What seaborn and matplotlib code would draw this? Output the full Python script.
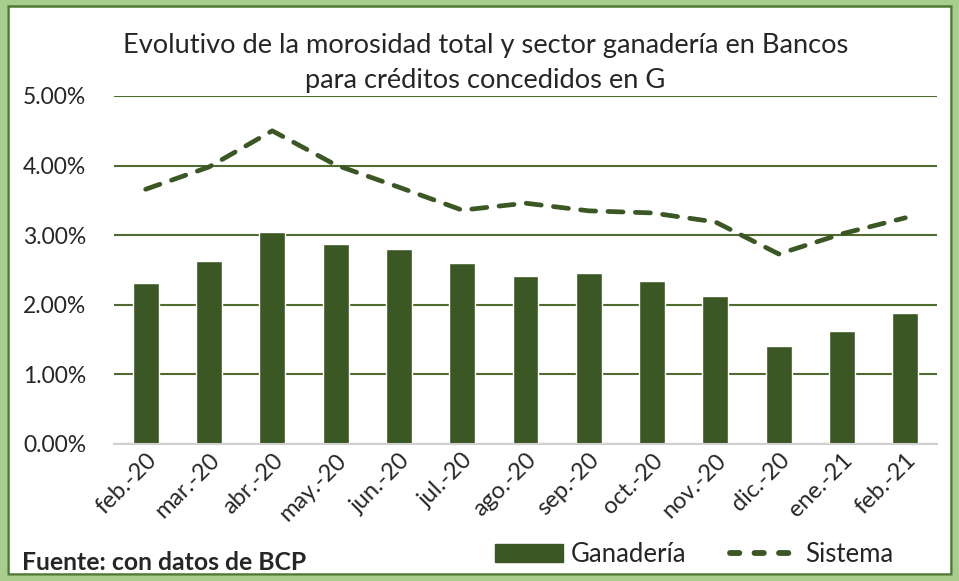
import numpy as np
import pandas as pd
import matplotlib
matplotlib.use("Agg")
import matplotlib.pyplot as plt
import seaborn as sns
from matplotlib.patches import Rectangle, Patch
from matplotlib.lines import Line2D
from matplotlib.ticker import PercentFormatter

# Data (percent)
months = ["feb.-20", "mar.-20", "abr.-20", "may.-20", "jun.-20", "jul.-20", "ago.-20",
          "sep.-20", "oct.-20", "nov.-20", "dic.-20", "ene.-21", "feb.-21"]
ganaderia = [2.31, 2.63, 3.05, 2.87, 2.80, 2.60, 2.41, 2.46, 2.34, 2.13, 1.41, 1.62, 1.88]
sistema = [3.66, 3.98, 4.50, 4.01, 3.69, 3.36, 3.46, 3.35, 3.32, 3.19, 2.73, 3.02, 3.25]

BAR_COLOR = "#3B5724"
GRID_COLOR = "#4F6B2F"

sns.set_style("white")
plt.rcParams["font.family"] = ["Lato", "DejaVu Sans"]

df = pd.DataFrame({"mes": months, "Ganadería": ganaderia, "Sistema": sistema})

fig = plt.figure(figsize=(9.59, 5.81), dpi=100)
ax = fig.add_axes([114 / 959, 1 - 444 / 581, (937 - 114) / 959, (444 - 96) / 581])

sns.barplot(data=df, x="mes", y="Ganadería", color=BAR_COLOR, saturation=1,
            width=0.41, ax=ax, zorder=3)
sns.lineplot(x=np.arange(len(months)), y=df["Sistema"], color=BAR_COLOR, lw=3.4,
             ax=ax, zorder=4)
ax.lines[-1].set_dashes([3.2, 2.6])
ax.lines[-1].set_dash_capstyle("round")

ax.set_ylim(0, 5)
ax.set_xlim(-0.5, len(months) - 0.5)
ax.set_yticks(np.arange(0, 5.01, 1))
ax.yaxis.set_major_formatter(PercentFormatter(decimals=2))
ax.grid(axis="y", color=GRID_COLOR, lw=1.5, zorder=0)
ax.set_axisbelow(True)
for s in ["top", "right", "left"]:
    ax.spines[s].set_visible(False)
ax.spines["bottom"].set_color("#D0D0D0")
ax.spines["bottom"].set_linewidth(1.5)
ax.spines["bottom"].set_zorder(5)
ax.set_xlabel("")
ax.set_ylabel("")
ax.tick_params(axis="y", labelsize=16.5, length=0, pad=20)
ax.tick_params(axis="x", labelsize=17, length=0, pad=4)
plt.setp(ax.get_xticklabels(), rotation=45, ha="right", rotation_mode="anchor")

fig.text(0.506, 0.922, "Evolutivo de la morosidad total y sector ganadería en Bancos",
         ha="center", va="center", fontsize=19.6)
fig.text(0.506, 0.862, "para créditos concedidos en G", ha="center", va="center", fontsize=19.6)

fig.text(22 / 959, 1 - 563 / 581, "Fuente: con datos de BCP", ha="left", va="center",
         fontsize=17.8, fontweight="bold")

handles = [Patch(facecolor=BAR_COLOR, edgecolor=BAR_COLOR, label="Ganadería"),
           Line2D([0], [0], color=BAR_COLOR, lw=4.2, dashes=[1.6, 2.6],
                  dash_capstyle="round", label="Sistema")]
fig.legend(handles=handles, loc="center", bbox_to_anchor=(694 / 959, 1 - 554 / 581),
           ncol=2, frameon=False, fontsize=18.5, handlelength=2.65, handleheight=0.7,
           columnspacing=1.7, handletextpad=0.3, borderpad=0)

# decorative border
fig.patches.append(Rectangle((0.003, 0.004), 0.994, 0.992, transform=fig.transFigure,
                             fill=False, edgecolor="#A9CD8C", lw=5, zorder=0))
fig.patches.append(Rectangle((0.0085, 0.012), 0.983, 0.978, transform=fig.transFigure,
                             fill=False, edgecolor="#4E7A2E", lw=1.8, zorder=1))

fig.savefig("out.png", dpi=100)
